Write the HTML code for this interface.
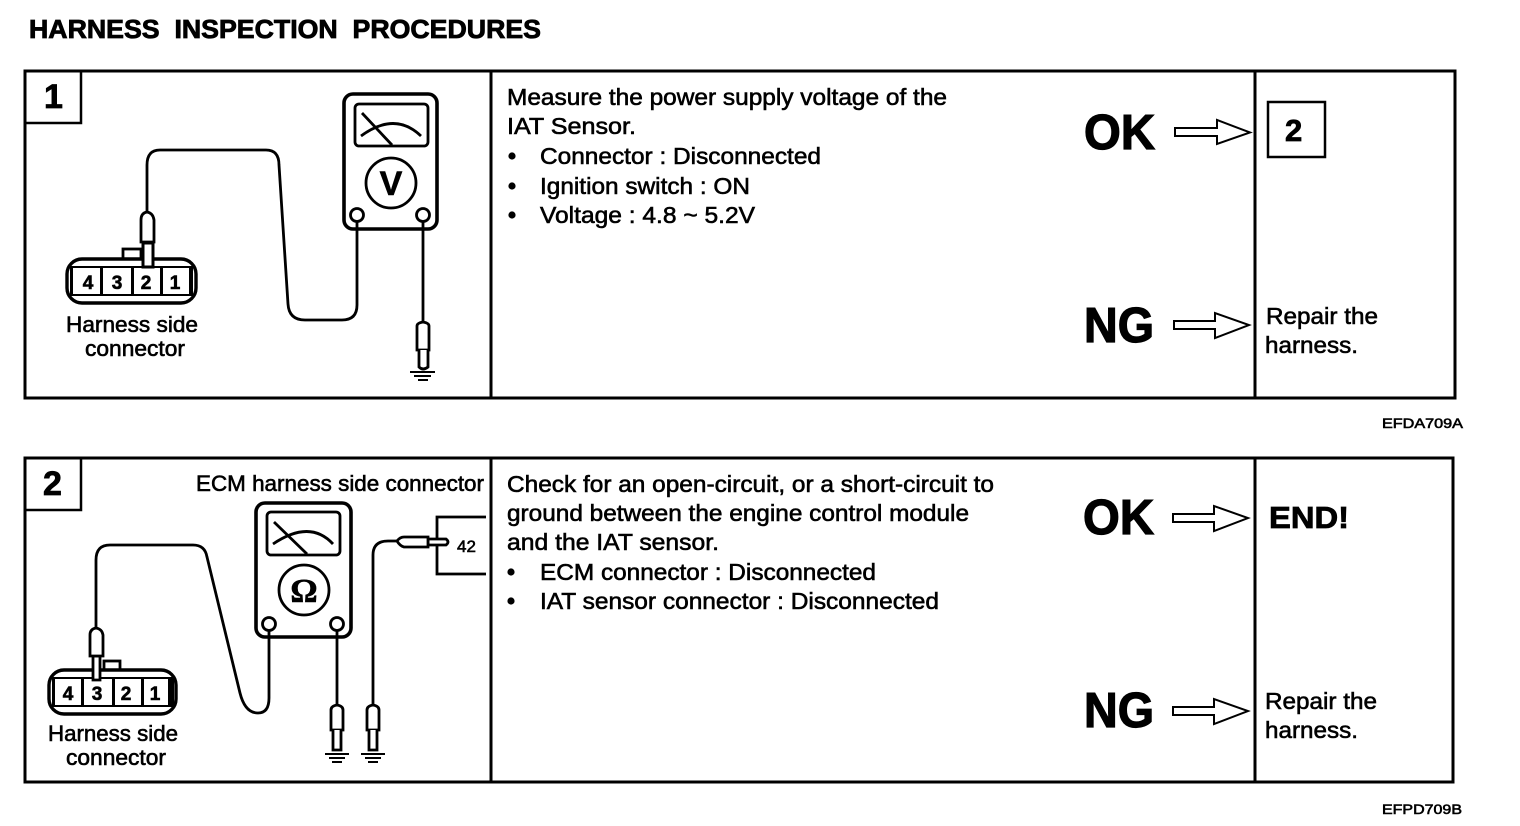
<!DOCTYPE html>
<html><head><meta charset="utf-8"><title>Harness Inspection Procedures</title>
<style>
html,body{margin:0;padding:0;background:#fff;width:1520px;height:826px;overflow:hidden}
svg{display:block}
text{font-family:"Liberation Sans",sans-serif;fill:#000;stroke:#000;stroke-width:.6px}
.b{font-weight:bold;stroke-width:.8px}
.t{font-size:23.5px}
.s{font-size:22px}
.big{font-size:49px;font-weight:bold;stroke-width:1.2px}
.n{font-size:34px;font-weight:bold;stroke-width:.8px}
.d{font-size:19px;font-weight:bold;text-anchor:middle}
.w{fill:none;stroke:#000;stroke-width:2.8}
.f{fill:#fff;stroke:#000;stroke-width:2.8}
.a{fill:#fff;stroke:#000;stroke-width:2}
</style></head><body>
<svg width="1520" height="826" viewBox="0 0 1520 826" xmlns="http://www.w3.org/2000/svg">
<text x="29" y="38" class="b" font-size="25.5" textLength="512" lengthAdjust="spacingAndGlyphs" xml:space="preserve">HARNESS  INSPECTION  PROCEDURES</text>

<!-- Panel 1 -->
<g fill="none" stroke="#000" stroke-width="3">
<rect x="25" y="71" width="1430" height="327"/>
<path d="M491 71V398M1255 71V398"/>
<path d="M25 123H81V71" stroke-width="2.5"/>
<rect x="1268" y="102" width="57" height="55" stroke-width="2.5"/>
</g>
<text x="44" y="108" class="n">1</text>
<text x="1285" y="141" class="n" style="font-size:31px">2</text>

<!-- meter 1 -->
<rect x="344" y="94" width="93" height="135" rx="9" class="f" style="stroke-width:3.6"/>
<rect x="355" y="104" width="73" height="42" rx="4" class="w"/>
<path d="M362 113L392 145M361 136Q395 111 421 136" class="w"/>
<circle cx="391" cy="183" r="25" class="w"/>
<text x="391" y="195" font-size="34" font-weight="bold" text-anchor="middle">V</text>
<circle cx="357" cy="215" r="6.500" class="f"/>
<circle cx="423" cy="215" r="6.500" class="f"/>
<path d="M147 213V165Q147 150 160 150H266Q279 150 279 165L288 304Q289 320 305 320H342Q357 320 357 305V222" class="w"/>
<path d="M423 222V323" class="w"/>
<!-- connector 1 -->
<rect x="123" y="249" width="18" height="10" class="f"/>
<rect x="67" y="259" width="129" height="44" rx="15" class="f" style="stroke-width:3.4"/>
<rect x="70" y="266" width="123" height="30" fill="#000"/>
<g fill="#fff"><rect x="73" y="268" width="27" height="26"/><rect x="103" y="268" width="28" height="26"/><rect x="134" y="268" width="26" height="26"/><rect x="163" y="268" width="26" height="26"/></g>
<text x="88" y="289" class="d">4</text><text x="117" y="289" class="d">3</text><text x="146" y="289" class="d">2</text><text x="175" y="289" class="d">1</text>
<path d="M143 243H153V267H143Z" class="f" style="stroke-width:3"/>
<path d="M141 242V220Q141 213 147 212Q153 213 154 220V242Z" class="f"/>
<!-- ground probe 1 -->
<path d="M417 350V326Q417 323 423 322Q429 323 429 326V350Z" class="f"/>
<path d="M419 350V367Q423 371 428 367V350" class="f"/>
<path d="M410 372H435M414 376H431M418 380H428" class="w" style="stroke-width:2"/>
<text x="66" y="332" class="s" textLength="132" lengthAdjust="spacingAndGlyphs">Harness side</text>
<text x="85" y="356" class="s" textLength="100" lengthAdjust="spacingAndGlyphs">connector</text>

<g class="t">
<text x="507" y="105" textLength="440" lengthAdjust="spacingAndGlyphs">Measure the power supply voltage of the</text>
<text x="507" y="134" textLength="129" lengthAdjust="spacingAndGlyphs">IAT Sensor.</text>
<circle cx="512" cy="156" r="3.6"/>
<text x="540" y="164" textLength="281" lengthAdjust="spacingAndGlyphs">Connector : Disconnected</text>
<circle cx="512" cy="186" r="3.6"/>
<text x="540" y="194" textLength="210" lengthAdjust="spacingAndGlyphs">Ignition switch : ON</text>
<circle cx="512" cy="215" r="3.6"/>
<text x="540" y="223" textLength="215" lengthAdjust="spacingAndGlyphs">Voltage : 4.8 ~ 5.2V</text>
</g>

<text x="1084" y="149" class="big" textLength="71" lengthAdjust="spacingAndGlyphs">OK</text>
<text x="1084" y="342" class="big" textLength="70" lengthAdjust="spacingAndGlyphs">NG</text>
<path d="M1175 128H1217V120L1250 132.500L1217 144V136H1175Z" class="a"/>
<path d="M1174 321H1215V313L1249 325L1215 338V329H1174Z" class="a"/>
<text x="1266" y="324" class="t" textLength="112" lengthAdjust="spacingAndGlyphs">Repair the</text>
<text x="1265" y="353" class="t" textLength="93" lengthAdjust="spacingAndGlyphs">harness.</text>
<text x="1382" y="428" font-size="14" textLength="81" lengthAdjust="spacingAndGlyphs">EFDA709A</text>

<!-- Panel 2 -->
<g fill="none" stroke="#000" stroke-width="3">
<rect x="25" y="458" width="1428" height="324"/>
<path d="M491 458V782M1255 458V782"/>
<path d="M25 510H81V458" stroke-width="2.5"/>
</g>
<text x="43" y="495" class="n">2</text>
<text x="196" y="491" class="s" textLength="288" lengthAdjust="spacingAndGlyphs">ECM harness side connector</text>

<!-- meter 2 -->
<rect x="256" y="503" width="95" height="134" rx="9" class="f" style="stroke-width:3.6"/>
<rect x="267" y="512" width="73" height="43" rx="4" class="w"/>
<path d="M274 522L307 554M273 544Q310 519 333 544" class="w"/>
<circle cx="304" cy="590" r="25" class="w"/>
<text x="304" y="602" font-size="34" font-weight="bold" text-anchor="middle" style='font-family:"Liberation Serif",serif'>Ω</text>
<circle cx="269" cy="624" r="6.500" class="f"/>
<circle cx="337" cy="624" r="6.500" class="f"/>
<path d="M96 628V560Q96 545 110 545H193Q205 545 207 557L240 693Q245 713 258 713Q269 713 269 698V631" class="w"/>
<path d="M337 631V706" class="w"/>
<path d="M373 705V555Q373 541 388 541H398" class="w"/>
<!-- connector 2 -->
<rect x="104" y="661" width="16" height="9" class="f"/>
<rect x="49" y="670" width="127" height="44" rx="15" class="f" style="stroke-width:3.4"/>
<rect x="52" y="677" width="122" height="30" fill="#000"/>
<g fill="#fff"><rect x="55" y="679" width="26" height="26"/><rect x="84" y="679" width="28" height="26"/><rect x="115" y="679" width="26" height="26"/><rect x="144" y="679" width="24" height="26"/></g>
<text x="68" y="700" class="d">4</text><text x="97" y="700" class="d">3</text><text x="126" y="700" class="d">2</text><text x="155" y="700" class="d">1</text>
<path d="M93 656H100V680H93Z" class="f"/>
<path d="M90 656V635Q90 629 96 628Q102 629 103 635V656Z" class="f"/>
<!-- ground probes 2 -->
<path d="M331 730V710Q331 706 337 705Q343 706 343 710V730Z" class="f"/>
<path d="M333 730V750H341V730" class="f"/>
<path d="M325 754H349M329 758H345M332 762H342" class="w" style="stroke-width:2"/>
<path d="M367 730V710Q367 706 373 705Q379 706 379 710V730Z" class="f"/>
<path d="M369 730V750H377V730" class="f"/>
<path d="M361 754H385M365 758H381M368 762H378" class="w" style="stroke-width:2"/>
<!-- ECM connector -->
<path d="M486 517H437V574H486" class="w"/>
<path d="M428 539H446Q450 542 446 545H428Z" class="f"/>
<path d="M428 537H404Q400 537 397 541Q400 546 404 547H428Z" class="f"/>
<text x="457" y="552" font-size="17">42</text>
<text x="48" y="741" class="s" textLength="130" lengthAdjust="spacingAndGlyphs">Harness side</text>
<text x="66" y="765" class="s" textLength="100" lengthAdjust="spacingAndGlyphs">connector</text>

<g class="t">
<text x="507" y="492" textLength="487" lengthAdjust="spacingAndGlyphs">Check for an open-circuit, or a short-circuit to</text>
<text x="507" y="521" textLength="462" lengthAdjust="spacingAndGlyphs">ground between the engine control module</text>
<text x="507" y="550" textLength="212" lengthAdjust="spacingAndGlyphs">and the IAT sensor.</text>
<circle cx="511" cy="572" r="3.6"/>
<text x="540" y="580" textLength="336" lengthAdjust="spacingAndGlyphs">ECM connector : Disconnected</text>
<circle cx="511" cy="601" r="3.6"/>
<text x="540" y="609" textLength="399" lengthAdjust="spacingAndGlyphs">IAT sensor connector : Disconnected</text>
</g>

<text x="1083" y="534" class="big" textLength="71" lengthAdjust="spacingAndGlyphs">OK</text>
<text x="1084" y="727" class="big" textLength="70" lengthAdjust="spacingAndGlyphs">NG</text>
<path d="M1173 514H1214V506L1248 518L1214 531V522H1173Z" class="a"/>
<path d="M1173 707H1214V699L1248 711L1214 724V715H1173Z" class="a"/>
<text x="1269" y="528" class="b" font-size="31" textLength="80" lengthAdjust="spacingAndGlyphs">END!</text>
<text x="1265" y="709" class="t" textLength="112" lengthAdjust="spacingAndGlyphs">Repair the</text>
<text x="1265" y="738" class="t" textLength="93" lengthAdjust="spacingAndGlyphs">harness.</text>
<text x="1382" y="814" font-size="14" textLength="80" lengthAdjust="spacingAndGlyphs">EFPD709B</text>
</svg>
</body></html>
